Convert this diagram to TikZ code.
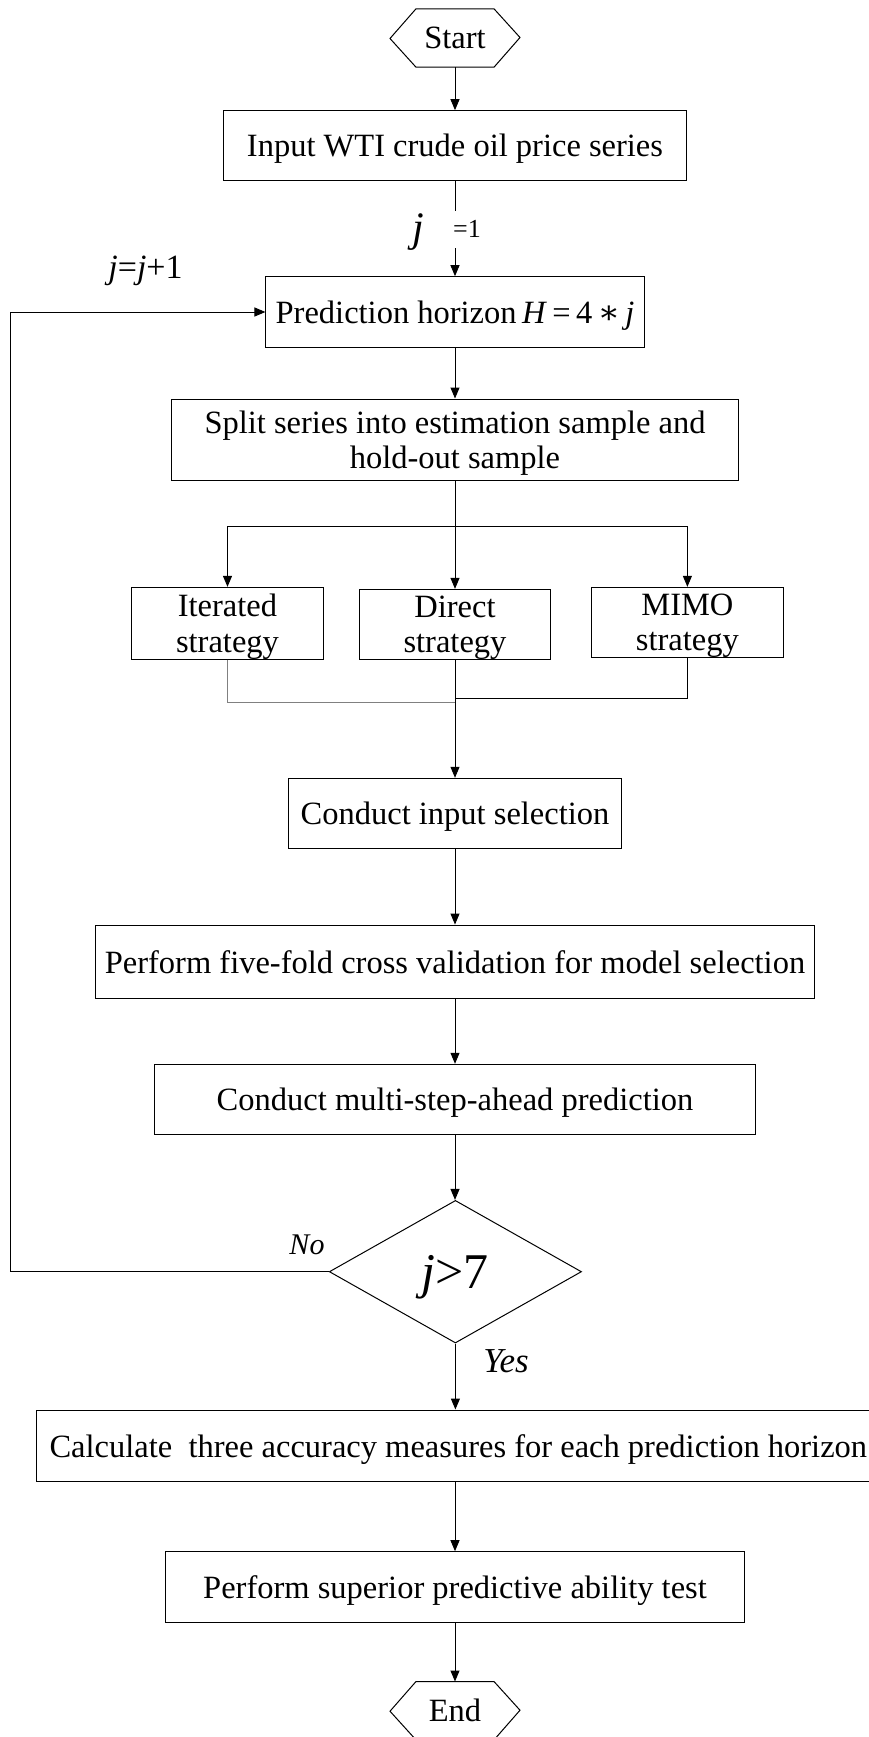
\documentclass[tikz,border=0pt]{standalone}
\usepackage{fontspec}
\setmainfont{Liberation Serif}
\newfontfamily\djserif{DejaVu Serif}
\usetikzlibrary{arrows.meta,shapes.geometric}
\begin{document}
\begin{tikzpicture}[x=1pt,y=-1pt,
  line width=1pt,
  >={Triangle[length=11pt,width=9pt]},
  box/.style={draw,rectangle,inner sep=0pt,align=center,text depth=0pt,
    font=\fontsize{32.5}{35.5}\selectfont},
  hexa/.style={rectangle,inner sep=0pt,minimum width=77pt,minimum height=57.4pt,
    text depth=0pt,font=\fontsize{32.5}{36}\selectfont},
  lbl/.style={inner sep=0pt},
]
\useasboundingbox (0,0) rectangle (869,1737);
\clip (0,0) rectangle (869,1737);

% Start / End hexagons
\node[hexa] (start) at (455,38) {Start};
\draw (start.north west) -- (start.north east) -- ++(26,28.7) -- (start.south east)
      -- (start.south west) -- ++(-26,-28.7) -- cycle;
\node[hexa] (end) at (455,1710.7) {End};
\draw (end.north west) -- (end.north east) -- ++(26,28.7) -- (end.south east)
      -- (end.south west) -- ++(-26,-28.7) -- cycle;

% boxes
\node[box,minimum width=462.3pt,minimum height=70pt] (input) at (455,145.7)
  {Input WTI crude oil price series};
\node[box,minimum width=378.1pt,minimum height=70.6pt] (pred) at (455,312)
  {Prediction horizon\,\textit{H}\,=\,4\,{\djserif ∗}\,\textit{j}};
\node[box,minimum width=566.6pt,minimum height=81pt] (split) at (455,439.5)
  {Split series into estimation sample and\\hold-out sample};
\node[box,minimum width=192.3pt,minimum height=71.7pt] (iter) at (227.5,623.2)
  {Iterated\\strategy};
\node[box,minimum width=191.8pt,minimum height=69.7pt] (direct) at (455,624.2)
  {Direct\\strategy};
\node[box,minimum width=191.8pt,minimum height=69.7pt] (mimo) at (687.4,622.2)
  {MIMO\\strategy};
\node[box,minimum width=332.6pt,minimum height=70pt] (conduct) at (455,813.3)
  {Conduct input selection};
\node[box,minimum width=718.4pt,minimum height=73.7pt] (fivefold) at (455,961.9)
  {Perform five-fold cross validation for model selection};
\node[box,minimum width=600.3pt,minimum height=70pt] (multi) at (455,1099.3)
  {Conduct multi-step-ahead prediction};
\node[draw,diamond,inner sep=0pt,minimum width=252.2pt,minimum height=142.6pt,
  shape aspect=1.77,text depth=0pt,font=\fontsize{50}{54}\selectfont] (dec) at (455.4,1271.7)
  {\textit{j}>7};
\node[box,minimum width=843.4pt,minimum height=71.7pt] (calc) at (458.3,1445.85)
  {Calculate \ three accuracy measures for each prediction horizon};
\node[box,minimum width=579.3pt,minimum height=70.6pt] (sup) at (455,1587)
  {Perform superior predictive ability test};

% labels
\node[lbl,font=\fontsize{42}{46}\selectfont] (jl) at (418.5,232) {\textit{j}};
\node[lbl,font=\fontsize{26}{30}\selectfont] (eql) at (467,229) {=1};
\node[lbl,font=\fontsize{34}{38}\selectfont] (jj) at (145.5,271) {\textit{j}=\textit{j}+1};
\node[lbl,font=\fontsize{30}{34}\selectfont] (no) at (307,1245) {\textit{No}};
\node[lbl,font=\fontsize{35}{40}\selectfont] (yes) at (506,1361) {\textit{Yes}};

% coordinates
\coordinate (jtop) at (455,210.7);
\coordinate (jbot) at (455,248);
\coordinate (brM) at (455,526);
\coordinate (brL) at (227.5,526);
\coordinate (brR) at (687.4,526);
\coordinate (mgL) at (455,702.7);
\coordinate (mgR) at (455,698.3);
\coordinate (fbL) at (10,1271.7);

% connectors
\draw[->] (start.south) -- (input.north);
\draw (input.south) -- (jtop);
\draw[->] (jbot) -- (pred.north);
\draw[->] (pred.south) -- (split.north);
\draw (split.south) -- (brM);
\draw (brL) -- (brR);
\draw[->] (brL) -- (iter.north);
\draw[->] (brM) -- (direct.north);
\draw[->] (brR) -- (mimo.north);
\draw[gray] (iter.south) |- (mgL);
\draw (mimo.south) |- (mgR);
\draw[->] (direct.south) -- (conduct.north);
\draw[->] (conduct.south) -- (fivefold.north);
\draw[->] (fivefold.south) -- (multi.north);
\draw[->] (multi.south) -- (multi.south |- dec.north);
\draw[->] (dec.west) -- (fbL) |- (pred.west);
\draw[->] (dec.south) -- (dec.south |- calc.north);
\draw[->] (sup.north |- calc.south) -- (sup.north);
\draw[->] (sup.south) -- (end.north);
\end{tikzpicture}
\end{document}
